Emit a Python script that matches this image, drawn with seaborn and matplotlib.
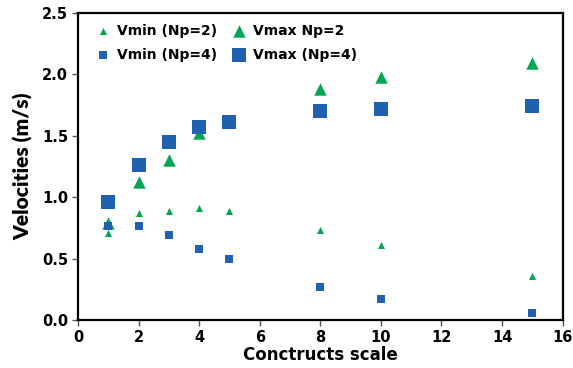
import matplotlib
matplotlib.use("Agg")
import matplotlib.pyplot as plt
import seaborn as sns
import pandas as pd

sns.set_theme(style="white")
plt.rcParams["font.family"] = ["DejaVu Sans"]
plt.rcParams["text.color"] = "black"
plt.rcParams["axes.labelcolor"] = "black"
plt.rcParams["xtick.color"] = "black"
plt.rcParams["ytick.color"] = "black"

# Construct scales and measured velocities (m/s)
scale = [1, 2, 3, 4, 5, 8, 10, 15]
vmin_np2 = [0.71, 0.87, 0.89, 0.91, 0.89, 0.73, 0.61, 0.36]
vmax_np2_scale = [1, 2, 3, 4, 8, 10, 15]
vmax_np2 = [0.79, 1.12, 1.30, 1.52, 1.88, 1.98, 2.09]
vmin_np4 = [0.77, 0.77, 0.69, 0.58, 0.50, 0.27, 0.17, 0.06]
vmax_np4 = [0.96, 1.26, 1.45, 1.57, 1.61, 1.70, 1.72, 1.74]

x_ticks = [0, 2, 4, 6, 8, 10, 12, 14, 16]
y_ticks = [0.0, 0.5, 1.0, 1.5, 2.0, 2.5]

green = "#00A650"
blue = "#2060B0"

fig = plt.figure(figsize=(5.73, 3.68), dpi=100)
ax = fig.add_axes([0.136, 0.130, 0.846, 0.835])

series = [
    ("Vmin (Np=2)", scale, vmin_np2, "^", green, 26),
    ("Vmax Np=2", vmax_np2_scale, vmax_np2, "^", green, 80),
    ("Vmin (Np=4)", scale, vmin_np4, "s", blue, 40),
    ("Vmax (Np=4)", scale, vmax_np4, "s", blue, 110),
]
for label, xs, ys, marker, color, size in series:
    df = pd.DataFrame({"x": xs, "y": ys})
    sns.scatterplot(data=df, x="x", y="y", marker=marker, color=color,
                    s=size, linewidth=0, ax=ax, label=label)

h, l = ax.get_legend_handles_labels()
order = [0, 2, 1, 3]
ax.legend([h[i] for i in order], [l[i] for i in order], ncol=2, frameon=False,
          loc="upper left", bbox_to_anchor=(0.0, 1.0), handletextpad=0.0,
          columnspacing=0.6, borderaxespad=0.4, labelspacing=0.7,
          prop={"weight": "bold", "size": 10}, markerscale=1.0)

ax.set_xlim(0, 16)
ax.set_ylim(0, 2.5)
ax.set_xticks(x_ticks)
ax.set_yticks(y_ticks)
ax.set_yticklabels([f"{v:.1f}" for v in y_ticks])
ax.tick_params(axis="both", direction="out", length=4, width=1, color="#555555",
               labelsize=10.5, labelcolor="black", bottom=True, left=True, pad=3)
for t in ax.get_xticklabels() + ax.get_yticklabels():
    t.set_fontweight("bold")
for sp in ax.spines.values():
    sp.set_color("black")
    sp.set_linewidth(1.6)
ax.set_xlabel("Conctructs scale", fontsize=12, fontweight="bold", labelpad=1)
ax.set_ylabel("Velocities (m/s)", fontsize=15, fontweight="heavy", labelpad=6,
              family=["Lato", "DejaVu Sans"])
ax.grid(False)

fig.savefig("out.png", dpi=100)
